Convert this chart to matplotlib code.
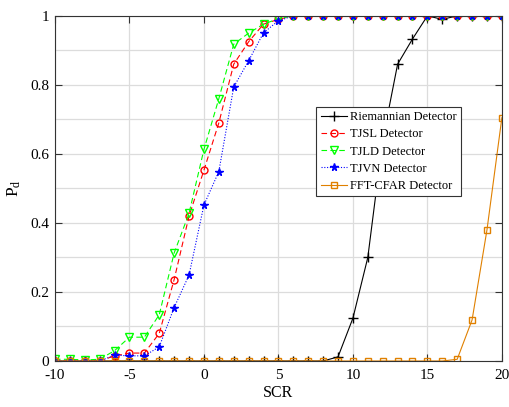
import matplotlib
matplotlib.use("Agg")
import matplotlib.pyplot as plt
import numpy as np
from matplotlib.ticker import MultipleLocator

plt.rcParams['font.family'] = ['Liberation Serif', 'DejaVu Serif']
plt.rcParams['mathtext.fontset'] = 'custom'
plt.rcParams['mathtext.rm'] = 'Liberation Serif'
plt.rcParams['mathtext.it'] = 'Liberation Serif'

scr = list(range(-10, 21))

riemannian = [0, 0, 0, 0, 0, 0, 0, 0, 0, 0, 0, 0, 0, 0, 0, 0, 0, 0, 0, 0.012, 0.124, 0.30,
              0.64, 0.86, 0.933, 1.0, 0.99, 1, 1, 1, 1]
tjsl = [0, 0, 0, 0, 0.015, 0.023, 0.023, 0.08, 0.236, 0.42, 0.553, 0.69, 0.86, 0.925, 0.976,
        0.99, 1, 1, 1, 1, 1, 1, 1, 1, 1, 1, 1, 1, 1, 1, 1]
tjld = [0.005, 0.005, 0.003, 0.005, 0.03, 0.069, 0.069, 0.134, 0.313, 0.428, 0.613, 0.76,
        0.918, 0.95, 0.976, 0.992, 1, 1, 1, 1, 1, 1, 1, 1, 1, 1, 1, 1, 1, 1, 1]
tjvn = [0, 0, 0, 0, 0.017, 0.015, 0.015, 0.041, 0.155, 0.249, 0.452, 0.549, 0.794, 0.87,
        0.951, 0.986, 1, 1, 1, 1, 1, 1, 1, 1, 1, 1, 1, 1, 1, 1, 1]
fftcfar = [0, 0, 0, 0, 0, 0, 0, 0, 0, 0, 0, 0, 0, 0, 0, 0, 0, 0, 0, 0, 0, 0, 0, 0, 0, 0, 0,
           0.005, 0.119, 0.38, 0.705]

xticks = [-10, -5, 0, 5, 10, 15, 20]
yticks = [0, 0.2, 0.4, 0.6, 0.8, 1]

fig = plt.figure(figsize=(5.09, 4.07), dpi=100)
ax = fig.add_axes([0.108, 0.113, 0.878, 0.848])

lw = 0.8
ax.plot(scr, riemannian, color='black', linestyle='-', marker='+', markersize=7,
        linewidth=lw, label='Riemannian Detector')
ax.plot(scr, tjsl, color='red', linestyle=(0, (5, 3)), marker='o', markersize=5,
        markerfacecolor='none', linewidth=lw, label='TJSL Detector')
ax.plot(scr, tjld, color='#00ff00', linestyle=(0, (5, 3)), marker='v', markersize=6,
        markerfacecolor='none', linewidth=lw, label='TJLD Detector')
ax.plot(scr, tjvn, color='blue', linestyle=(0, (1, 1.5)), marker='*', markersize=5.5,
        linewidth=lw, label='TJVN Detector')
ax.plot(scr, fftcfar, color='#e08000', linestyle='-', marker='s', markersize=4.5,
        markerfacecolor='none', linewidth=lw, label='FFT-CFAR Detector')

ax.set_xlim(-10, 20)
ax.set_ylim(0, 1)
ax.set_xticks(xticks)
ax.set_xticklabels([str(t) for t in xticks])
ax.set_yticks(yticks)
ax.set_yticklabels(['0', '0.2', '0.4', '0.6', '0.8', '1'])
ax.yaxis.set_minor_locator(MultipleLocator(0.1))
ax.tick_params(which='major', direction='in', top=True, right=True, length=5,
               labelsize=11, width=0.8, colors='#333333', labelcolor='black')
ax.tick_params(axis='x', which='major', pad=6)
ax.tick_params(axis='y', which='major', pad=4)
ax.tick_params(which='minor', length=0, top=True, right=True)
ax.grid(True, which='major', color='#dcdcdc', linewidth=0.9)
ax.grid(True, which='minor', axis='y', color='#dcdcdc', linewidth=0.9)
ax.set_axisbelow(True)
for s in ax.spines.values():
    s.set_color('#333333')
    s.set_linewidth(0.8)

ax.set_xlabel('SCR', fontsize=11.5, labelpad=2)
ax.set_ylabel(r'P$_\mathregular{d}$', fontsize=12.5, labelpad=5)

leg = ax.legend(loc='upper left', bbox_to_anchor=(0.585, 0.737), fontsize=9,
                frameon=True, fancybox=False, edgecolor='#333333', framealpha=1,
                handlelength=2.1, handletextpad=0.2, borderpad=0.35, labelspacing=0.42,
                borderaxespad=0)
leg.get_frame().set_linewidth(0.8)

fig.savefig('out.png', dpi=100)
